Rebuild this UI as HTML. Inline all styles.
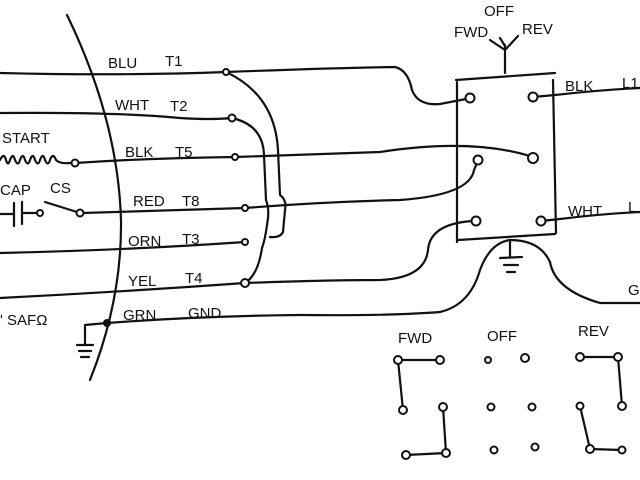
<!DOCTYPE html>
<html><head><meta charset="utf-8"><style>
html,body{margin:0;padding:0;background:#fff;width:640px;height:480px;overflow:hidden}
svg text{font-family:"Liberation Sans",sans-serif;font-size:15px;fill:#111}
</style></head><body>
<svg width="640" height="480" viewBox="0 0 640 480" xmlns="http://www.w3.org/2000/svg">
<g fill="none" stroke="#111" stroke-width="2.2" stroke-linecap="round" stroke-linejoin="round">
<!-- big arc -->
<path d="M67,15 Q118,120 121,220 Q122,300 90,380"/>
<!-- main lead lines -->
<path d="M0,73 Q120,76 226,72 Q330,68 395,67 Q408,70 412,90 Q418,106 440,104 L466,99"/>
<path d="M0,113 Q120,112 180,118 Q210,120 232,118"/>
<path d="M75,163 Q150,158 235,157 L380,152 Q470,138 530,156"/>
<path d="M82,213 Q170,210 245,208 Q320,202 400,200 Q470,195 474,170 L477,163"/>
<path d="M0,253 Q130,250 245,242"/>
<path d="M0,298 Q120,292 245,283 Q330,280 380,280 Q425,278 428,250 Q430,224 472,221"/>
<path d="M107,323 Q200,316 300,315 Q390,316 440,312 Q470,305 480,270 Q490,243 510,240 Q540,240 550,262 Q555,290 600,303 L640,303"/>
<!-- jumpers -->
<path d="M226,72 Q275,95 278,150 L280,195 Q287,200 285,210 L283,232 Q280,238 270,237"/>
<path d="M232,118 Q263,125 264,155 L266,200 Q270,210 267,225 Q265,240 262,248 Q258,275 245,283"/>
<!-- right lines -->
<path d="M533,97 L555,95 Q600,90 640,88"/>
<path d="M541,221 L560,219 Q600,214 640,212"/>
<!-- switch box -->
<path d="M457,82 L457,242"/><path d="M456,80 L555,73"/><path d="M553,80 L556,233"/><path d="M458,240 L555,234"/>
<path d="M505,73 L505,45 M505,50 L490,40 M505,50 L518,36 M505,46 L500,38"/>
<!-- ground near box -->
<path d="M510,240 L510,257 M500,258 L522,257 M504,265 L518,265 M507,272 L515,272"/>
<!-- left ground -->
<path d="M107,323 L85,325 L85,345 M77,345 L93,345 M79,351 L91,351 M81,357 L89,357"/>
<!-- start coil -->
<path d="M0,160 Q4,152 6,160 Q8,167 10,160 Q13,152 15,160 Q18,167 20,160 Q23,152 25,160 Q28,167 30,160 Q33,152 35,160 Q38,167 40,160 Q43,152 45,160 Q48,167 50,160 Q53,152 56,160 Q60,164 70,163"/>
<!-- cap -->
<path d="M0,214 L13,214 M14,203 L14,226 M22,202 L22,224 M22,213 L36,213"/>
<path d="M45,202 L77,212"/>
<!-- bottom switch diagrams -->
<path d="M398,360 L440,360 M398,360 L403,410 M443,407 L446,453 L406,455"/>
<path d="M580,357 L618,357 L622,406 M580,406 L590,449 L622,450"/>
</g>
<g fill="#fff" stroke="#111" stroke-width="2">
<circle cx="226" cy="72" r="3"/><circle cx="232" cy="118" r="3.5"/><circle cx="235" cy="157" r="3"/>
<circle cx="245" cy="208" r="3"/><circle cx="245" cy="242" r="3"/><circle cx="245" cy="283" r="4"/>
<circle cx="75" cy="163" r="3.5"/><circle cx="40" cy="213" r="3"/><circle cx="80" cy="213" r="3.5"/>
<circle cx="470" cy="98" r="4.5"/><circle cx="533" cy="97" r="4.5"/><circle cx="478" cy="160" r="4.5"/>
<circle cx="533" cy="158" r="5"/><circle cx="476" cy="221" r="4.5"/><circle cx="541" cy="221" r="4.5"/>
<circle cx="398" cy="360" r="4"/><circle cx="440" cy="360" r="4"/><circle cx="403" cy="410" r="4"/>
<circle cx="443" cy="407" r="4"/><circle cx="406" cy="455" r="4"/><circle cx="446" cy="453" r="4"/>
<circle cx="488" cy="360" r="3"/><circle cx="525" cy="358" r="4"/><circle cx="491" cy="407" r="3.5"/>
<circle cx="532" cy="407" r="3.5"/><circle cx="494" cy="450" r="3.5"/><circle cx="535" cy="447" r="3.5"/>
<circle cx="580" cy="357" r="4"/><circle cx="618" cy="357" r="4"/><circle cx="580" cy="406" r="3.5"/>
<circle cx="622" cy="406" r="4"/><circle cx="590" cy="449" r="4"/><circle cx="622" cy="450" r="3.5"/>
</g>
<circle cx="107" cy="323" r="4" fill="#111"/>
<text x="108" y="68">BLU</text><text x="165" y="66">T1</text>
<text x="115" y="110">WHT</text><text x="170" y="111">T2</text>
<text x="125" y="157">BLK</text><text x="175" y="157">T5</text>
<text x="133" y="206">RED</text><text x="182" y="206">T8</text>
<text x="128" y="246">ORN</text><text x="182" y="244">T3</text>
<text x="128" y="286">YEL</text><text x="185" y="283">T4</text>
<text x="123" y="320">GRN</text><text x="188" y="318">GND</text>
<text x="0" y="325">' SAFΩ</text>
<text x="2" y="143">START</text><text x="0" y="195">CAP</text><text x="50" y="193">CS</text>
<text x="484" y="16" font-size="13">OFF</text><text x="454" y="37" font-size="13">FWD</text><text x="522" y="34">REV</text>
<text x="565" y="91">BLK</text><text x="622" y="88">L1</text>
<text x="568" y="216">WHT</text><text x="628" y="212">L</text>
<text x="628" y="295">G</text>
<text x="398" y="343">FWD</text><text x="487" y="341">OFF</text><text x="578" y="336">REV</text>
</svg>
</body></html>
